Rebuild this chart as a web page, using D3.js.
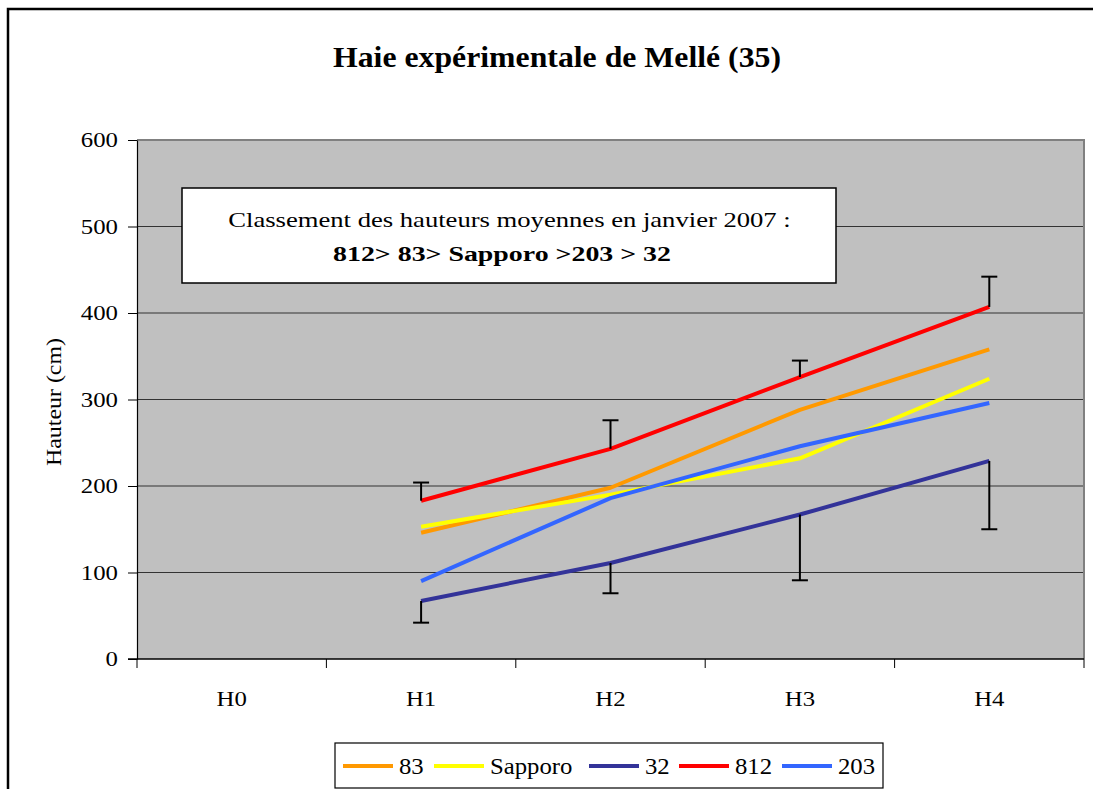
<!DOCTYPE html>
<html><head><meta charset="utf-8">
<script src="https://cdn.jsdelivr.net/npm/d3@7"></script>
<style>
html,body{margin:0;padding:0;background:#fff;}
svg{display:block;}
</style></head>
<body>
<svg id="c" width="1093" height="789" style="font-family:'Liberation Serif'"></svg>
<script>
const categories = ["H0","H1","H2","H3","H4"];
const seriesNames = ["83","Sapporo","32","812","203"];
const v83 = [null,146,198,288,358];
const vSapporo = [null,153,190,232,324];
const v32 = [null,67,111,167,229];
const v812 = [null,183,243,326,407];
const v203 = [null,90,186,246,296];
const err812Up = [null,21,33,19,35];
const err32Down = [null,25,35,76,79];
const yTicks = [0,100,200,300,400,500,600];
const colors = ["#FF9900","#FFFF00","#333399","#FF0000","#3366FF"];
const titleText = "Haie expérimentale de Mellé (35)";
const yTitle = "Hauteur (cm)";
const noteLine1 = "Classement des hauteurs moyennes en janvier 2007 :";
const noteLine2 = "812> 83> Sapporo >203 > 32";

const FF = "Liberation Serif";
const svg = d3.select("#c");
const L=137, R=1084, T=140, B=659;
const x = d3.scaleBand().domain(categories).range([L,R]);
const y = d3.scaleLinear().domain([0,600]).range([B,T]);

// horizontally stretch text glyphs (by factor s, or to a target width w)
function hfit(sel, s, w){
  sel.each(function(){
    const el = d3.select(this);
    const nat = this.getComputedTextLength();
    const f = w ? w/nat : s;
    const x0 = +(el.attr("x")||0), y0 = +(el.attr("y")||0);
    const prev = el.attr("transform")||"";
    el.attr("x",0).attr("y",0).attr("transform", `${prev} translate(${x0},${y0}) scale(${f},1)`);
  });
}

// outer frame
svg.append("path").attr("d","M8,800 L8,9 L1100,9").attr("fill","none").attr("stroke","#000").attr("stroke-width",2.5);

// title
hfit(svg.append("text").attr("x",557).attr("y",67).attr("text-anchor","middle")
  .style("font-family",FF).attr("font-size",29).attr("font-weight","bold").text(titleText), 1, 448);

// plot background
svg.append("rect").attr("x",L).attr("y",T).attr("width",R-L).attr("height",B-T).attr("fill","#C0C0C0");
// gridlines
svg.append("g").selectAll("line").data(yTicks.filter(d=>d>0 && d<600)).join("line")
  .attr("x1",L).attr("x2",R).attr("y1",d=>y(d)).attr("y2",d=>y(d))
  .attr("stroke","#333").attr("stroke-width",1);
// plot border top/right
svg.append("path").attr("d",`M${L},${T} L${R},${T} L${R},${B}`).attr("fill","none").attr("stroke","#808080").attr("stroke-width",2);

// y axis
const ya = svg.append("g").attr("transform",`translate(${L},0)`)
  .call(d3.axisLeft(y).tickValues(yTicks).tickSize(9).tickPadding(10).tickSizeOuter(0));
ya.select(".domain").attr("stroke","#000").attr("stroke-width",1.2);
ya.selectAll(".tick line").attr("stroke","#000");
ya.selectAll("text").style("font-family",FF).attr("font-size",21).attr("fill","#000");
hfit(ya.selectAll("text"), 1.18);

// x axis
const xa = svg.append("g").attr("transform",`translate(0,${B})`)
  .call(d3.axisBottom(x).tickSize(0).tickPadding(32));
xa.select(".domain").remove();
xa.selectAll("text").style("font-family",FF).attr("font-size",21).attr("fill","#000");
hfit(xa.selectAll("text"), 1.18);
svg.append("line").attr("x1",L-9).attr("x2",R).attr("y1",B).attr("y2",B).attr("stroke","#000").attr("stroke-width",1.5);
const bounds = categories.map(c=>x(c)).concat([x(categories[categories.length-1])+x.bandwidth()]);
svg.append("g").selectAll("line").data(bounds).join("line")
  .attr("x1",d=>d).attr("x2",d=>d).attr("y1",B).attr("y2",B+9).attr("stroke","#000").attr("stroke-width",1);

// y title
hfit(svg.append("text").attr("transform",`translate(61,402) rotate(-90)`).attr("text-anchor","middle")
  .style("font-family",FF).attr("font-size",22).text(yTitle), 1, 128);

const cx = c => x(c)+x.bandwidth()/2;

// error bars
function errBars(vals, errs, dir){
  const g = svg.append("g").attr("stroke","#000").attr("stroke-width",2);
  categories.forEach((c,i)=>{
    if(vals[i]==null) return;
    const y0=y(vals[i]), y1=y(vals[i]+dir*errs[i]);
    g.append("line").attr("x1",cx(c)).attr("x2",cx(c)).attr("y1",y0).attr("y2",y1);
    g.append("line").attr("x1",cx(c)-8).attr("x2",cx(c)+8).attr("y1",y1).attr("y2",y1);
  });
}

// lines
const all = [v83,vSapporo,v32,v812,v203];
const line = d3.line().defined(d=>d.v!=null).x(d=>cx(d.c)).y(d=>y(d.v));
all.forEach((vals,k)=>{
  svg.append("path").datum(categories.map((c,i)=>({c,v:vals[i]})))
    .attr("d",line).attr("fill","none").attr("stroke",colors[k]).attr("stroke-width",4)
    .attr("stroke-linejoin","round");
  if(k===2) errBars(v32,err32Down,-1);
  if(k===3) errBars(v812,err812Up,1);
});

// note box
svg.append("rect").attr("x",182).attr("y",188).attr("width",654).attr("height",95)
  .attr("fill","#fff").attr("stroke","#000").attr("stroke-width",1.5);
hfit(svg.append("text").attr("x",509.5).attr("y",227).attr("text-anchor","middle")
  .style("font-family",FF).attr("font-size",22).text(noteLine1), 1, 563);
hfit(svg.append("text").attr("x",502).attr("y",261).attr("text-anchor","middle")
  .style("font-family",FF).attr("font-size",22).attr("font-weight","bold").text(noteLine2), 1, 338);

// legend
svg.append("rect").attr("x",335).attr("y",743).attr("width",548).attr("height",45)
  .attr("fill","#fff").attr("stroke","#000").attr("stroke-width",1.2);
const legX = [343,434,589,679,782];
const lg = svg.append("g");
seriesNames.forEach((n,k)=>{
  lg.append("line").attr("x1",legX[k]).attr("x2",legX[k]+50).attr("y1",766).attr("y2",766)
    .attr("stroke",colors[k]).attr("stroke-width",4);
  const t = lg.append("text").attr("x",legX[k]+56).attr("y",774).style("font-family",FF).attr("font-size",22.5).text(n);
  hfit(t, 1.1);
});
</script>
</body></html>
